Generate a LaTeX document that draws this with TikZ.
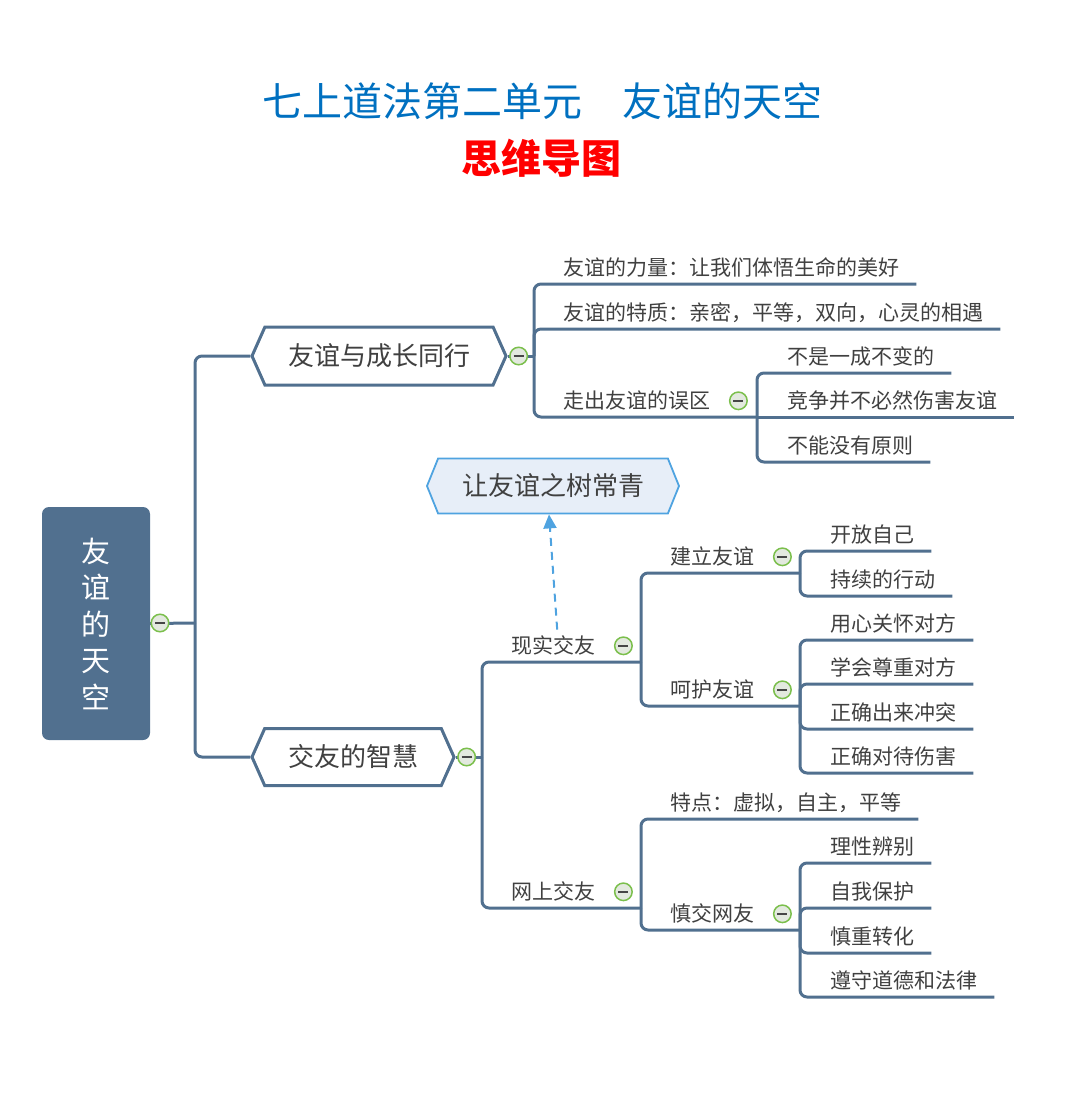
\documentclass[tikz,border=0pt]{standalone}
\usepackage{fontspec}
\usepackage{xcolor}
\usepackage{tikz}
\usetikzlibrary{shapes.symbols, arrows.meta}

\newfontfamily\cjk{Noto Sans CJK SC}
\definecolor{branchc}{HTML}{51708F}
\definecolor{textc}{HTML}{404040}
\definecolor{foldc}{HTML}{7BBF4C}
\definecolor{foldf}{HTML}{E3E9DF}
\definecolor{titleb}{HTML}{0070C0}
\definecolor{calloutc}{HTML}{4FA3E0}
\definecolor{calloutf}{HTML}{E7EEF8}

\tikzset{
  branch/.style={draw=branchc, line width=3pt, rounded corners=7pt},
  topic/.style={signal, signal to=west and east, signal pointer angle=132,
    draw=branchc, line width=3pt, fill=white, text=textc, inner xsep=0pt,
    minimum height=58pt, font=\cjk\fontsize{26}{26}\selectfont},
  callout/.style={topic, signal pointer angle=136, draw=calloutc, fill=calloutf,
    line width=1.8pt, minimum height=55pt},
  leaf/.style={anchor=south west, inner xsep=0pt, inner ysep=8pt, text height=16pt,
    text depth=0pt, text=textc, font=\cjk\fontsize{21}{21}\selectfont},
  foldmark/.style={circle, draw=foldc, line width=1.5pt, fill=foldf,
    minimum size=17.5pt, inner sep=0pt,
    path picture={\draw[gray!55!black, line width=1.4pt]
      ([xshift=-5pt]path picture bounding box.center) --
      ([xshift=5pt]path picture bounding box.center);}},
  dasharrow/.style={draw=calloutc, line width=2pt, dash pattern=on 8pt off 6pt,
    -{Triangle[length=14pt, width=13pt]}}
}

\begin{document}
\begin{tikzpicture}[x=1pt, y=-1pt]
  \useasboundingbox (0,0) rectangle (1080,1103);

  % titles
  \node[text=titleb, font=\cjk\fontsize{40}{40}\selectfont] (T1) at (542,101) {七上道法第二单元　友谊的天空};
  \node[text=red, font=\cjk\bfseries\fontsize{40}{40}\selectfont] (T2) at (541,158) {思维导图};

  % central topic
  \node[fill=branchc, rounded corners=7pt, minimum width=108pt, minimum height=233pt,
    text=white, align=center, font=\cjk\fontsize{29}{36.5}\selectfont] (root) at (96,623.5)
    {友\\谊\\的\\天\\空};
  \coordinate (b0) at (195,623);
  \draw[branch] (root.east) -- (b0);

  \node[topic, minimum width=254pt] (H1) at (379,356) {友谊与成长同行};
  \node[topic, minimum width=202pt, minimum height=57pt] (H2) at (353,757) {交友的智慧};
  \draw[branch] (b0) |- (H1.west);
  \draw[branch] (b0) |- (H2.west);

  % floating topic
  \node[callout, minimum width=252pt] (tree) at (553,486) {让友谊之树常青};

  % first main branch
  \coordinate (b1) at (534,356);
  \draw[branch] (H1.east) -- (b1);
  \node[leaf] (A1) at (563,284) {友谊的力量：让我们体悟生命的美好};
  \node[leaf] (A2) at (563,329) {友谊的特质：亲密，平等，双向，心灵的相遇};
  \node[leaf] (A3) at (563,417) {走出友谊的误区};
  \draw[branch] (b1) |- ([xshift=17pt]A1.south east);
  \draw[branch] (b1) |- ([xshift=17pt]A2.south east);
  \coordinate (b3) at (757,417);
  \draw[branch] (b1) |- (b3);
  \node[leaf] (A31) at (787,373) {不是一成不变的};
  \node[leaf] (A32) at (787,417) {竞争并不必然伤害友谊};
  \node[leaf] (A33) at (787,462) {不能没有原则};
  \draw[branch] (b3) |- ([xshift=17pt]A31.south east);
  \draw[branch] (b3) -- ([xshift=17pt]A32.south east);
  \draw[branch] (b3) |- ([xshift=17pt]A33.south east);

  % second main branch
  \coordinate (b2) at (482,757);
  \draw[branch] (H2.east) -- (b2);
  \node[leaf] (B1) at (511,662) {现实交友};
  \node[leaf] (B2) at (511,908) {网上交友};
  \coordinate (b4) at (641,662);
  \coordinate (b5) at (641,908);
  \draw[branch] (b2) |- (b4);
  \draw[branch] (b2) |- (b5);

  \node[leaf] (B11) at (670,573) {建立友谊};
  \node[leaf] (B12) at (670,706) {呵护友谊};
  \coordinate (b6) at (800,573);
  \coordinate (b7) at (800,706);
  \draw[branch] (b4) |- (b6);
  \draw[branch] (b4) |- (b7);
  \foreach \y/\t [count=\i] in {551/开放自己, 596/持续的行动} {
    \node[leaf] (C\i) at (830,\y) {\t};
    \draw[branch] (b6) |- ([xshift=17pt]C\i.south east);
  }
  \foreach \y/\t [count=\i] in {640/用心关怀对方, 684/学会尊重对方, 729/正确出来冲突, 773/正确对待伤害} {
    \node[leaf] (D\i) at (830,\y) {\t};
    \draw[branch] (b7) |- ([xshift=17pt]D\i.south east);
  }

  \node[leaf] (B21) at (670,819) {特点：虚拟，自主，平等};
  \node[leaf] (B22) at (670,930) {慎交网友};
  \coordinate (b8) at (800,930);
  \draw[branch] (b5) |- ([xshift=17pt]B21.south east);
  \draw[branch] (b5) |- (b8);
  \foreach \y/\t [count=\i] in {863/理性辨别, 908/自我保护, 953/慎重转化, 997/遵守道德和法律} {
    \node[leaf] (E\i) at (830,\y) {\t};
    \draw[branch] (b8) |- ([xshift=17pt]E\i.south east);
  }

  % dashed link to the floating topic
  \draw[dasharrow] ([xshift=4pt]B1.north) -- ([xshift=-4pt]tree.south);

  % collapse marks
  \node[foldmark] (rootf) at (160,623) {};
  \node[foldmark] (H1f) at ([xshift=11pt]H1.east) {};
  \node[foldmark] (H2f) at ([xshift=11pt]H2.east) {};
  \node[foldmark] (A3f) at ([xshift=28pt]A3.east) {};
  \node[foldmark] (B1f) at ([xshift=28pt]B1.east) {};
  \node[foldmark] (B2f) at ([xshift=28pt]B2.east) {};
  \node[foldmark] (B11f) at ([xshift=28pt]B11.east) {};
  \node[foldmark] (B12f) at ([xshift=28pt]B12.east) {};
  \node[foldmark] (B22f) at ([xshift=28pt]B22.east) {};
\end{tikzpicture}
\end{document}
